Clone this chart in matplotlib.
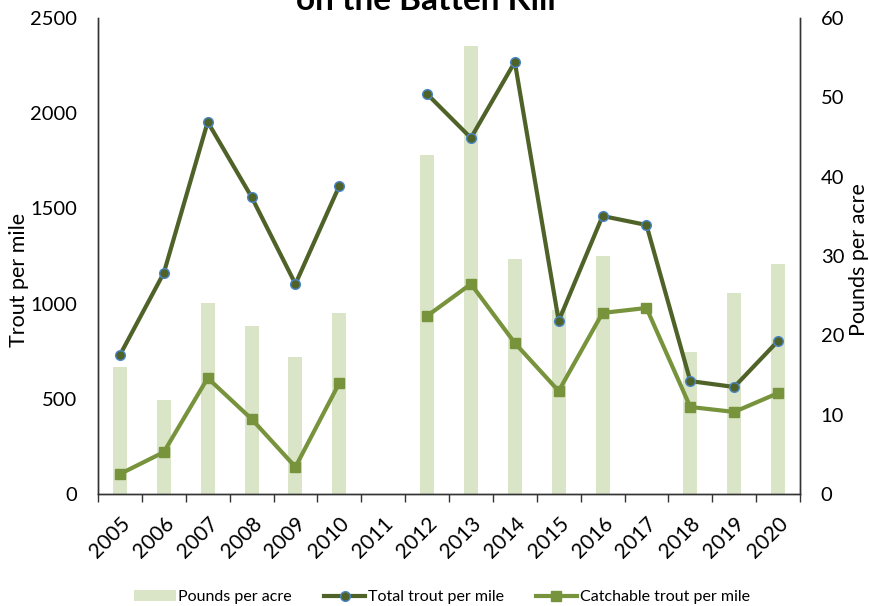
import numpy as np
import matplotlib
matplotlib.use("Agg")
import matplotlib.pyplot as plt
from matplotlib.lines import Line2D
from matplotlib.patches import Patch

plt.rcParams['font.family'] = ['Lato', 'DejaVu Sans']

years = ["2005", "2006", "2007", "2008", "2009", "2010", "2011", "2012",
         "2013", "2014", "2015", "2016", "2017", "2018", "2019", "2020"]
pounds_per_acre = [16.0, 11.9, 24.1, 21.2, 17.3, 22.8, np.nan, 42.7,
                   56.5, 29.6, 23.2, 30.0, np.nan, 17.9, 25.3, 29.0]
total_trout = [730, 1161, 1954, 1560, 1103, 1618, np.nan, 2101,
               1870, 2269, 909, 1460, 1413, 593, 562, 804]
catchable_trout = [105, 220, 609, 394, 142, 583, np.nan, 935,
                   1103, 793, 541, 951, 977, 457, 431, 530]

bar_color = "#DAE5C8"
total_color = "#4F6228"
total_edge = "#4A86C8"
catch_color = "#77933C"

fig = plt.figure(figsize=(8.69, 6.06), dpi=100)
ax = fig.add_axes([98/869, 1-494/606, (800-98)/869, (494-18)/606])
ax2 = ax.twinx()

x = np.arange(len(years))
ax2.bar(x, pounds_per_acre, width=0.32, color=bar_color, zorder=1)

ax.plot(x, total_trout, color=total_color, lw=3, marker='o', ms=7,
        mfc=total_color, mec=total_edge, mew=1.0, zorder=3)
ax.plot(x, catchable_trout, color=catch_color, lw=3, marker='s', ms=7,
        mfc=catch_color, mec=catch_color, zorder=3)

ax.set_zorder(ax2.get_zorder() + 1)
ax.patch.set_visible(False)

ax.set_xlim(-0.5, len(years) - 0.5)
ax.set_ylim(0, 2500)
ax2.set_ylim(0, 60)
ax.set_yticks(np.arange(0, 2501, 500))
ax2.set_yticks(np.arange(0, 61, 10))

ax.set_xticks(x)
ax.set_xticklabels(years, rotation=45, ha='right', rotation_mode='anchor', fontsize=15)
ax.set_xticks(np.arange(-0.5, len(years), 1), minor=True)
ax.tick_params(axis='x', which='major', length=0, pad=14)
ax.tick_params(axis='x', which='minor', length=6, width=1, color='#333333')
ax.tick_params(axis='y', length=0, labelsize=14.5, pad=15)
ax2.tick_params(axis='y', length=0, labelsize=14.5, pad=15)

for a in (ax, ax2):
    a.spines['top'].set_visible(False)
    for s in ('left', 'right', 'bottom'):
        a.spines[s].set_color('#333333')
        a.spines[s].set_linewidth(1.0)

fig.text(19/869, 1 - 280/606, "Trout per mile", rotation=90, ha='center', va='center',
         fontsize=15.5)
fig.text(859/869, 1 - 260/606, "Pounds per acre", rotation=90, ha='center', va='center',
         fontsize=15.5)

fig.text(426/869, 1 - 10/606, "on the Batten Kill", ha='center', va='baseline',
         fontsize=24, fontweight='bold')

handles = [
    Patch(facecolor=bar_color, edgecolor='none'),
    Line2D([], [], color=total_color, lw=3, marker='o', ms=7, mfc=total_color, mec=total_edge),
    Line2D([], [], color=catch_color, lw=3, marker='s', ms=7, mfc=catch_color, mec=catch_color),
]
labels = ["Pounds per acre", "Total trout per mile", "Catchable trout per mile"]
fig.legend(handles, labels, loc='center', bbox_to_anchor=(442/869, 1 - 597/606),
           ncol=3, frameon=False, fontsize=11.5, handlelength=2.6, columnspacing=2.0,
           handletextpad=0.15)

fig.savefig("out.png", dpi=100)
